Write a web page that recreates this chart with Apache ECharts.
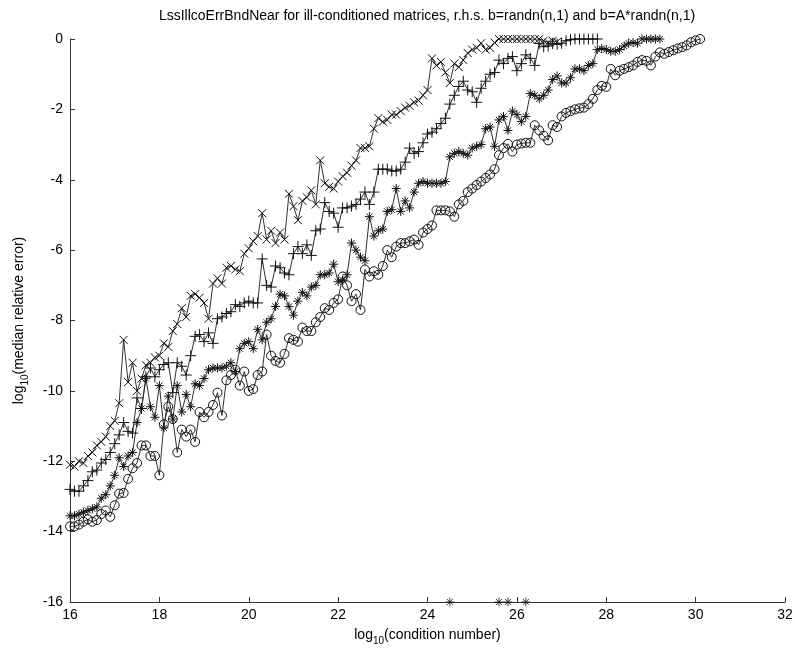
<!DOCTYPE html>
<html>
<head>
<meta charset="utf-8">
<script src="https://cdn.jsdelivr.net/npm/echarts@6/dist/echarts.min.js"></script>
<style>
  html, body { margin: 0; padding: 0; background: #fff; }
  #chart { width: 795px; height: 648px; }
</style>
</head>
<body>
<div id="chart"></div>
<script>
const FONT = '"Liberation Sans", Arial, Helvetica, sans-serif';

// log10(condition number) sampling grid shared by all curves
const condStart = 16.0;
const condStep = 0.1;

// log10(median relative error), one value per grid step
const errCross = [
  -12.1, -12.15, -12.0, -12.05, -11.85, -11.75, -11.55, -11.45, -11.3, -11.0,
  -10.85, -10.35, -8.55, -9.75, -9.2, -10.0, -9.65, -9.27, -9.2, -9.05,
  -9.0, -8.65, -8.75, -8.3, -8.1, -7.65, -7.9, -7.3, -7.25, -7.35,
  -7.5, -7.95, -6.95, -6.8, -6.95, -6.5, -6.45, -6.55, -6.6, -6.1,
  -5.95, -5.75, -5.6, -4.95, -5.7, -5.45, -5.8, -5.5, -5.7, -4.4,
  -4.75, -5.15, -4.6, -4.5, -4.3, -4.7, -3.45, -4.1, -4.2, -4.25,
  -4.05, -3.9, -3.8, -3.6, -3.45, -3.1, -3.1, -3.05, -2.55, -2.25,
  -2.35, -2.3, -2.15, -2.15, -2.05, -1.95, -1.9, -1.8, -1.75, -1.6,
  -1.45, -0.55, -0.75, -0.65, -0.95, -1.25, -0.7, -0.8, -0.6, -0.4,
  -0.3, -0.25, -0.12, -0.3, -0.25, -0.1, 0, 0, 0, 0,
  0, 0, 0, 0, 0, 0, -0.05, -0.1, -0.05, -0.08
];

const errPlus = [
  -12.8, -12.85, -12.85, -12.7, -12.55, -12.3, -12.25, -12.05, -11.95, -11.75,
  -11.5, -11.25, -10.9, -11.15, -11.2, -10.2, -10.5, -9.6, -9.35, -9.6,
  -9.4, -9.25, -9.2, -10.05, -9.2, -9.3, -9.55, -9.0, -8.45, -8.4,
  -8.6, -8.35, -8.65, -7.95, -7.9, -7.8, -7.75, -7.55, -7.6, -7.5,
  -7.45, -7.5, -7.5, -6.25, -7.0, -7.05, -6.45, -6.5, -6.65, -6.7,
  -6.1, -5.9, -6.1, -5.85, -6.15, -5.45, -5.4, -4.65, -4.9, -4.95,
  -5.35, -4.8, -4.8, -4.75, -4.7, -4.55, -4.35, -4.7, -4.35, -3.7,
  -3.7, -3.7, -3.75, -3.75, -3.7, -3.5, -3.1, -3.25, -3.2, -2.95,
  -2.7, -2.65, -2.55, -2.4, -2.25, -1.85, -1.6, -1.35, -1.2, -1.45,
  -1.5, -1.8, -1.4, -1.2, -1.0, -0.95, -0.6, -0.7, -0.55, -0.5,
  -0.9, -0.7, -0.45, -0.55, -0.75, -0.13, -0.22, -0.2, -0.13, -0.15,
  -0.12, -0.05, -0.02, 0, 0, 0, 0, 0, 0
];

const errStar = [
  -13.55, -13.55, -13.5, -13.45, -13.4, -13.35, -13.3, -13.05, -12.95, -12.7,
  -12.4, -11.9, -12.15, -11.85, -11.75, -10.9, -10.5, -9.65, -10.45, -10.75,
  -9.85, -11.05, -10.15, -10.8, -9.85, -10.6, -10.1, -10.45, -9.8, -9.85,
  -9.65, -9.4, -9.35, -9.35, -9.35, -9.3, -9.2, -9.45, -8.8, -8.65,
  -8.6, -8.8, -8.25, -8.55, -8.05, -7.95, -7.6, -7.25, -7.3, -7.6,
  -7.85, -7.45, -7.2, -7.3, -7.05, -7.0, -6.7, -6.7, -6.65, -6.4,
  -6.9, -6.85, -6.7, -5.8, -6.0, -6.2, -6.3, -5.05, -5.6, -5.45,
  -5.4, -4.9, -4.85, -4.25, -4.9, -4.6, -4.8, -4.35, -4.1, -4.05,
  -4.1, -4.1, -4.1, -4.1, -4.05, -3.35, -3.25, -3.2, -3.25, -3.3,
  -3.1, -3.05, -3.0, -2.55, -2.5, -3.05, -2.3, -2.2, -2.6, -2.05,
  -2.15, -2.35, -2.2, -1.55, -1.6, -1.7, -1.6, -1.45, -1.15, -1.05,
  -1.25, -1.25, -1.1, -0.85, -0.85, -0.9, -0.75, -0.7, -0.3, -0.27,
  -0.3, -0.35, -0.35, -0.3, -0.2, -0.12, -0.1, -0.12, 0, 0,
  0, 0, 0
];

const errCircle = [
  -13.85, -13.85, -13.8, -13.72, -13.65, -13.72, -13.67, -13.5, -13.4, -13.58,
  -13.25, -12.92, -12.9, -12.5, -12.2, -12.05, -11.55, -11.55, -11.85, -11.85,
  -12.4, -10.95, -10.45, -10.8, -11.75, -11.1, -11.3, -11.1, -11.45, -10.6,
  -10.75, -10.6, -10.4, -10.05, -10.7, -9.7, -9.55, -9.4, -9.85, -9.45,
  -10.0, -9.95, -9.55, -9.45, -8.4, -9.0, -9.15, -9.2, -8.95, -8.5,
  -8.55, -8.6, -8.2, -8.3, -8.3, -8.05, -7.9, -7.65, -7.7, -7.5,
  -7.4, -6.75, -7.0, -7.45, -7.25, -7.7, -6.55, -6.75, -6.6, -6.7,
  -6.45, -6.0, -6.2, -5.9, -5.8, -5.8, -5.75, -5.7, -5.85, -5.5,
  -5.4, -5.3, -4.87, -4.87, -4.87, -4.9, -5.05, -4.7, -4.6, -4.35,
  -4.25, -4.15, -4.05, -3.95, -3.85, -3.7, -3.3, -3.1, -2.98, -3.2,
  -3.0, -2.97, -2.95, -2.95, -2.45, -2.6, -2.75, -2.88, -2.45, -2.5,
  -2.2, -2.1, -2.05, -2.0, -1.97, -1.95, -1.85, -1.7, -1.45, -1.33,
  -1.36, -0.85, -1.03, -0.9, -0.85, -0.8, -0.75, -0.65, -0.6, -0.62,
  -0.75, -0.5, -0.38, -0.42, -0.37, -0.32, -0.27, -0.23, -0.18, -0.09,
  -0.04, 0
];

// cases where the error hit the floor of the plot
const floorStarCond = [24.5, 25.6, 25.8, 26.2];
const floorStarErr = [-16, -16, -16, -16];

// axis ranges and tick spacing
const xRange = [16, 32];
const yRange = [-16, 0];
const tickStep = 2;

const titleText = 'LssIllcoErrBndNear for ill-conditioned matrices, r.h.s. b=randn(n,1) and b=A*randn(n,1)';

function pairs(values) {
  return values.map((v, i) => [+(condStart + i * condStep).toFixed(2), v]);
}

const SYM_CROSS = 'path://M0,0L10,10M10,0L0,10';
const SYM_PLUS = 'path://M5,0L5,10M0,5L10,5';
const SYM_STAR = 'path://M5,0L5,10M0,5L10,5M1.6,1.6L8.4,8.4M8.4,1.6L1.6,8.4';

const LINE_COLOR = '#303030';
const MARK_COLOR = '#111';

function curve(name, values, symbol, size) {
  return {
    name: name,
    type: 'line',
    data: pairs(values),
    symbol: symbol,
    symbolSize: size,
    showAllSymbol: true,
    lineStyle: { color: LINE_COLOR, width: 1 },
    itemStyle: { color: 'none', borderColor: MARK_COLOR, borderWidth: 1 },
    emphasis: { disabled: true },
    z: 2
  };
}

const chart = echarts.init(document.getElementById('chart'), null, { renderer: 'canvas' });

const axisCommon = {
  type: 'value',
  interval: tickStep,
  axisLine: { show: true, onZero: false, lineStyle: { color: '#333', width: 1 } },
  axisTick: { show: true, inside: true, length: 5, lineStyle: { color: '#333', width: 1 } },
  splitLine: { show: false },
  axisLabel: { color: '#000', fontSize: 14, fontFamily: FONT },
  nameLocation: 'middle',
  nameTextStyle: {
    color: '#000',
    fontSize: 14,
    fontFamily: FONT,
    rich: {
      a: { fontSize: 14, fontFamily: FONT, color: '#000', lineHeight: 18, verticalAlign: 'bottom' },
      s: { fontSize: 10, fontFamily: FONT, color: '#000', lineHeight: 18, verticalAlign: 'bottom', padding: [0, 0, -4, 0] }
    }
  }
};

chart.setOption({
  animation: false,
  backgroundColor: '#fff',
  grid: { left: 70, right: 10, top: 39, bottom: 46, outerBoundsMode: 'none' },
  graphic: [{
    type: 'text',
    x: 427,
    y: 16,
    style: {
      text: titleText,
      fontSize: 14,
      fontFamily: FONT,
      fill: '#000',
      align: 'center',
      verticalAlign: 'middle'
    }
  }],
  xAxis: Object.assign({}, axisCommon, {
    min: xRange[0],
    max: xRange[1],
    name: '{a|log}{s|10}{a|(condition number)}',
    nameGap: 22,
    axisLabel: Object.assign({}, axisCommon.axisLabel, { margin: 6 })
  }),
  yAxis: Object.assign({}, axisCommon, {
    min: yRange[0],
    max: yRange[1],
    name: '{a|log}{s|10}{a|(median relative error)}',
    nameGap: 44,
    nameRotate: 90,
    axisLabel: Object.assign({}, axisCommon.axisLabel, { margin: 7 })
  }),
  series: [
    curve('cross', errCross, SYM_CROSS, 8),
    curve('plus', errPlus, SYM_PLUS, 11),
    curve('star', errStar, SYM_STAR, 9),
    curve('circle', errCircle, 'circle', 9),
    {
      name: 'star floor',
      type: 'scatter',
      data: floorStarCond.map((c, i) => [c, floorStarErr[i]]),
      symbol: SYM_STAR,
      symbolSize: 9,
      clip: false,
      itemStyle: { color: 'none', borderColor: MARK_COLOR, borderWidth: 1 },
      emphasis: { disabled: true },
      z: 3
    }
  ]
});
</script>
</body>
</html>
